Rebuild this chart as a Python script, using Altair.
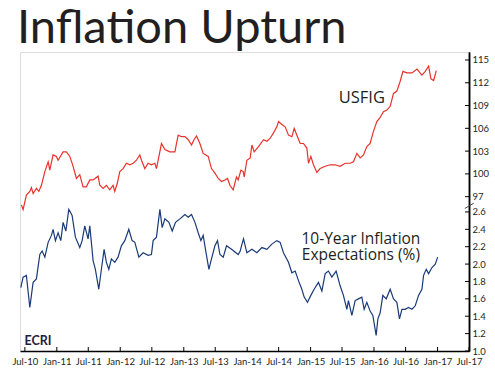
import altair as alt
import pandas as pd
import numpy as np

# ---- data (decimal year, value) ----
usfig_t = [2010.442, 2010.468, 2010.520, 2010.574, 2010.599, 2010.626, 2010.678, 2010.716, 2010.757, 2010.811,
           2010.863, 2010.889, 2010.941, 2010.993, 2011.020, 2011.099, 2011.151, 2011.205, 2011.257, 2011.309,
           2011.362, 2011.414, 2011.466, 2011.520, 2011.572, 2011.651, 2011.678, 2011.730, 2011.782, 2011.835,
           2011.887, 2011.914, 2011.955, 2011.993, 2012.045, 2012.097, 2012.151, 2012.203, 2012.255, 2012.308,
           2012.334, 2012.387, 2012.439, 2012.491, 2012.545, 2012.570, 2012.597, 2012.649, 2012.702, 2012.781,
           2012.860, 2012.885, 2012.912, 2012.964, 2013.018, 2013.070, 2013.122, 2013.160, 2013.201, 2013.254,
           2013.306, 2013.385, 2013.437, 2013.491, 2013.543, 2013.595, 2013.649, 2013.690, 2013.727, 2013.779,
           2013.831, 2013.858, 2013.901, 2013.937, 2013.953, 2013.995, 2014.047, 2014.074, 2014.110, 2014.178,
           2014.257, 2014.311, 2014.363, 2014.415, 2014.468, 2014.494, 2014.547, 2014.599, 2014.651, 2014.705,
           2014.741, 2014.784, 2014.836, 2014.888, 2014.941, 2014.967, 2015.004, 2015.045, 2015.099, 2015.151,
           2015.230, 2015.309, 2015.388, 2015.466, 2015.545, 2015.624, 2015.676, 2015.730, 2015.782, 2015.834,
           2015.887, 2015.939, 2015.991, 2016.045, 2016.086, 2016.149, 2016.203, 2016.255, 2016.307, 2016.360,
           2016.412, 2016.455, 2016.518, 2016.597, 2016.676, 2016.754, 2016.807, 2016.859, 2016.896, 2016.938,
           2016.980]
usfig_v = [95.9, 95.3, 97.2, 97.7, 98.2, 97.4, 98.1, 97.7, 98.5, 100.3,
           101.6, 100.5, 102.5, 102.3, 101.8, 102.9, 102.9, 102.3, 101.0, 99.4,
           99.9, 98.3, 98.3, 99.2, 99.2, 99.7, 98.5, 98.1, 98.5, 97.9,
           98.5, 97.7, 98.8, 100.3, 100.7, 101.4, 101.2, 101.4, 101.8, 102.5,
           101.8, 100.7, 101.4, 101.2, 101.4, 100.7, 101.8, 104.0, 103.2, 102.9,
           102.9, 104.0, 105.1, 104.9, 104.9, 104.5, 103.8, 104.5, 105.0, 104.0,
           102.7, 102.3, 100.7, 100.1, 99.4, 99.0, 99.2, 99.4, 98.5, 97.9,
           99.6, 99.2, 100.5, 100.3, 99.6, 101.8, 102.1, 103.8, 102.9, 103.6,
           104.5, 104.3, 104.7, 105.4, 106.2, 106.9, 106.5, 106.2, 105.1, 104.9,
           106.0, 105.1, 104.0, 104.0, 103.4, 101.4, 102.3, 101.2, 100.2, 100.7,
           101.0, 101.2, 101.2, 101.0, 101.4, 101.4, 101.6, 102.7, 102.1, 102.5,
           103.6, 104.0, 105.6, 106.9, 107.3, 108.2, 108.4, 108.9, 110.6, 110.9,
           112.2, 113.5, 113.3, 113.3, 113.8, 113.0, 113.5, 114.2, 112.5, 112.3,
           113.6]

exp_t = [2010.432, 2010.468, 2010.520, 2010.574, 2010.626, 2010.678, 2010.732, 2010.768, 2010.811, 2010.863,
         2010.915, 2010.941, 2010.978, 2011.020, 2011.063, 2011.099, 2011.142, 2011.189, 2011.241, 2011.293,
         2011.362, 2011.399, 2011.441, 2011.493, 2011.520, 2011.572, 2011.608, 2011.662, 2011.703, 2011.746,
         2011.782, 2011.820, 2011.861, 2011.914, 2011.966, 2012.018, 2012.072, 2012.135, 2012.187, 2012.230,
         2012.293, 2012.360, 2012.439, 2012.491, 2012.518, 2012.570, 2012.624, 2012.660, 2012.702, 2012.766,
         2012.818, 2012.870, 2012.939, 2013.018, 2013.070, 2013.122, 2013.176, 2013.227, 2013.270, 2013.306,
         2013.342, 2013.396, 2013.437, 2013.491, 2013.532, 2013.570, 2013.622, 2013.674, 2013.753, 2013.858,
         2013.890, 2013.910, 2013.942, 2013.995, 2014.074, 2014.153, 2014.232, 2014.311, 2014.389, 2014.468,
         2014.520, 2014.572, 2014.651, 2014.705, 2014.757, 2014.809, 2014.862, 2014.899, 2014.951, 2015.004,
         2015.056, 2015.124, 2015.178, 2015.230, 2015.282, 2015.335, 2015.403, 2015.466, 2015.518, 2015.572,
         2015.597, 2015.651, 2015.703, 2015.755, 2015.808, 2015.845, 2015.887, 2015.939, 2015.982, 2016.034,
         2016.061, 2016.097, 2016.139, 2016.192, 2016.255, 2016.307, 2016.360, 2016.401, 2016.439, 2016.491,
         2016.543, 2016.597, 2016.649, 2016.701, 2016.754, 2016.780, 2016.822, 2016.859, 2016.912, 2016.964,
         2017.001]
exp_v = [1.73, 1.85, 1.87, 1.50, 1.79, 1.83, 2.11, 2.15, 2.08, 2.25,
         2.33, 2.40, 2.27, 2.36, 2.27, 2.48, 2.38, 2.63, 2.56, 2.31,
         2.19, 2.27, 2.44, 2.29, 2.44, 2.04, 1.94, 1.71, 1.94, 2.17,
         2.02, 1.94, 2.06, 2.02, 2.08, 2.21, 2.27, 2.40, 2.27, 2.25,
         2.08, 2.13, 2.10, 2.11, 2.27, 2.31, 2.63, 2.42, 2.52, 2.48,
         2.38, 2.48, 2.52, 2.57, 2.54, 2.57, 2.48, 2.36, 2.27, 2.33,
         2.17, 1.94, 2.06, 2.21, 2.27, 2.11, 2.08, 2.21, 2.17, 2.11,
         2.15, 2.21, 2.29, 2.13, 2.17, 2.13, 2.19, 2.17, 2.23, 2.27,
         2.25, 2.13, 2.02, 1.90, 1.92, 1.81, 1.71, 1.62, 1.56, 1.64,
         1.71, 1.79, 1.69, 1.89, 1.92, 1.85, 1.92, 1.75, 1.64, 1.48,
         1.58, 1.41, 1.58, 1.60, 1.62, 1.48, 1.56, 1.46, 1.41, 1.18,
         1.37, 1.44, 1.64, 1.60, 1.71, 1.60, 1.56, 1.37, 1.48, 1.48,
         1.50, 1.48, 1.52, 1.64, 1.71, 1.87, 1.94, 1.89, 1.96, 2.00,
         2.08]

x_tick_labels = ["Jul-10", "Jan-11", "Jul-11", "Jan-12", "Jul-12", "Jan-13", "Jul-13", "Jan-14",
                 "Jul-14", "Jan-15", "Jul-15", "Jan-16", "Jul-16", "Jan-17", "Jul-17"]
usfig_ticks = [97, 100, 103, 106, 109, 112, 115]
exp_ticks = [1.0, 1.2, 1.4, 1.6, 1.8, 2.0, 2.2, 2.4, 2.6]

# annotation anchors (decimal year, value)
usfig_label = ("USFIG", 2015.808, 109.3)
exp_label = ("10-Year Inflation\nExpectations (%)", 2015.794, 2.231)
ecri_label = ("ECRI", 2010.489, 1.069)
break_mark_t = [2017.43, 2017.57]
break_mark_v = [2.64, 2.70]


def to_date(t):
    y = int(np.floor(t))
    start = pd.Timestamp(year=y, month=1, day=1)
    ndays = (pd.Timestamp(year=y + 1, month=1, day=1) - start).days
    return start + pd.Timedelta(days=(t - y) * ndays)


red_df = pd.DataFrame({"date": [to_date(t) for t in usfig_t], "v": usfig_v})
blue_df = pd.DataFrame({"date": [to_date(t) for t in exp_t], "v": exp_v})
xt_df = pd.DataFrame({"date": [pd.Timestamp(f"20{s[-2:]}-{'07' if s.startswith('Jul') else '01'}-01")
                               for s in x_tick_labels]})
rt_df = pd.DataFrame({"v": usfig_ticks})
bt_df = pd.DataFrame({"v": exp_ticks})
ut_df = pd.DataFrame({"date": [to_date(usfig_label[1])], "v": [usfig_label[2]], "label": [usfig_label[0]]})
et_df = pd.DataFrame({"date": [to_date(exp_label[1])], "v": [exp_label[2]], "label": [exp_label[0]]})
ecri_df = pd.DataFrame({"date": [to_date(ecri_label[1])], "v": [ecri_label[2]], "label": [ecri_label[0]]})
brk_df = pd.DataFrame({"date": [to_date(break_mark_t[0])], "date2": [to_date(break_mark_t[1])],
                       "v": [break_mark_v[0]], "v2": [break_mark_v[1]]})

W, H = 449, 299
TXT = "#231f20"
FONT = "Lato"
ANN_FONT = "Open Sans"

x_scale = alt.Scale(domain=[alt.DateTime(year=2010, month=6, date=3),
                            alt.DateTime(year=2017, month=7, date=1)])
x_axis = alt.Axis(title=None, values=list(xt_df["date"].dt.strftime("%Y-%m-%d")), format="%b-%y",
                  ticks=False, grid=False, labelPadding=5, labelFontSize=9.5, labelColor=TXT,
                  labelFont=FONT, domainColor="black", domainWidth=1.5, labelOverlap=False,
                  labelFlush=False)
X = alt.X("date:T", scale=x_scale, axis=x_axis)

red_scale = alt.Scale(domain=[76.68, 116.05], nice=False, zero=False)
blue_scale = alt.Scale(domain=[1.0, 4.44], nice=False, zero=False)

yaxis_common = dict(orient="right", title=None, ticks=False, grid=False, labelPadding=3,
                    labelFontSize=9.5, labelColor=TXT, labelFont=FONT, domainColor="black",
                    domainWidth=1.5, labelOverlap=False, labelBaseline="middle", labelFlush=False)

red_line = alt.Chart(red_df).mark_line(color="#e8322b", strokeWidth=1.2).encode(
    x=X, y=alt.Y("v:Q", scale=red_scale, axis=alt.Axis(values=usfig_ticks, **yaxis_common)))
red_ticks = alt.Chart(rt_df).mark_rule(color="black", strokeWidth=1).encode(
    x=alt.value(W - 4), x2=alt.value(W), y=alt.Y("v:Q", scale=red_scale, axis=None))
red_text = alt.Chart(ut_df).mark_text(font=ANN_FONT, fontSize=16.5, color=TXT, align="center",
                                      baseline="alphabetic").encode(
    x=X, y=alt.Y("v:Q", scale=red_scale, axis=None), text="label:N")

blue_line = alt.Chart(blue_df).mark_line(color="#1a3a78", strokeWidth=1.2).encode(
    x=X, y=alt.Y("v:Q", scale=blue_scale, axis=alt.Axis(values=exp_ticks, format=".1f", **yaxis_common)))
blue_ticks = alt.Chart(bt_df).mark_rule(color="black", strokeWidth=1).encode(
    x=alt.value(W - 4), x2=alt.value(W), y=alt.Y("v:Q", scale=blue_scale, axis=None))
blue_text = alt.Chart(et_df).mark_text(font=ANN_FONT, fontSize=15.5, color=TXT, align="center",
                                       baseline="alphabetic", lineBreak="\n", lineHeight=16).encode(
    x=X, y=alt.Y("v:Q", scale=blue_scale, axis=None), text="label:N")
ecri_text = alt.Chart(ecri_df).mark_text(font=FONT, fontSize=12.5, fontWeight="bold", color="#1c2340",
                                         align="left", baseline="alphabetic").encode(
    x=X, y=alt.Y("v:Q", scale=blue_scale, axis=None), text="label:N")
brk = alt.Chart(brk_df).mark_rule(color="#444", strokeWidth=1).encode(
    x=X, x2="date2:T", y=alt.Y("v:Q", scale=blue_scale, axis=None), y2="v2:Q")

x_ticks = alt.Chart(xt_df).mark_rule(color="black", strokeWidth=1).encode(
    x=X, y=alt.value(H - 4), y2=alt.value(H))

chart = alt.layer(
    red_line, red_ticks, red_text,
    blue_line, blue_ticks, blue_text, ecri_text, brk, x_ticks
).resolve_scale(y="independent").properties(
    width=W, height=H,
    title=alt.TitleParams("Inflation Upturn", anchor="start", frame="group", fontSize=47,
                          font=FONT, fontWeight="normal", color=TXT, baseline="top",
                          offset=5, dx=-3, dy=6),
    autosize=alt.AutoSizeParams(type="none"),
    padding={"left": 20, "top": 52, "right": 26, "bottom": 24},
).configure_view(stroke="black", strokeWidth=1.5).configure(background="white")

chart.save("out.html", embed_options={"renderer": "svg", "actions": False})
